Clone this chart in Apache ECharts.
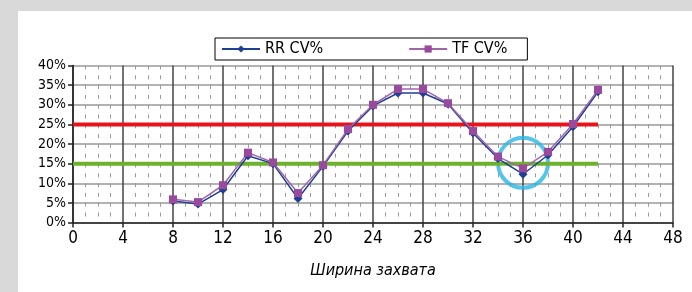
<!DOCTYPE html>
<html>
<head>
<meta charset="utf-8">
<script src="https://cdn.jsdelivr.net/npm/echarts@6/dist/echarts.min.js"></script>
<style>
    html, body { margin: 0; padding: 0; background: #d9d9d9; }
    #mychart { position: absolute; left: 18px; top: 11px; width: 674px; height: 281px; background: #fff; }
</style>
</head>
<body>
<div id="mychart"></div>
<script>
// ширина захвата
var widths = [8, 10, 12, 14, 16, 18, 20, 22, 24, 26, 28, 30, 32, 34, 36, 38, 40, 42];
var rrCv = [5.5, 4.7, 8.4, 17.0, 15.0, 6.1, 14.3, 23.3, 29.7, 33.0, 33.0, 30.2, 22.8, 16.3, 12.3, 17.2, 24.4, 33.3];
var tfCv = [5.9, 5.2, 9.5, 17.8, 15.3, 7.5, 14.6, 23.8, 30.0, 34.0, 34.0, 30.4, 23.3, 16.8, 13.8, 18.0, 25.1, 33.8];
// пороговые линии (от 0 до 42)
var limitRange = [0, 42];
var redLimit = 25;
var greenLimit = 15;
// обведённая точка
var markPoint = [36, 15.2];

var font = "'DejaVu Sans Condensed', 'Liberation Sans Narrow', sans-serif";

function pairs(xs, ys) {
    var out = [];
    for (var i = 0; i < xs.length; i++) {
        out.push([xs[i], ys[i]]);
    }
    return out;
}

var myChart = echarts.init(document.getElementById('mychart'));
var option = {
    animation: false,
    textStyle: { fontFamily: font },
    legend: {
        left: 197,
        top: 27,
        padding: [3, 20, 3, 6],
        itemGap: 85,
        itemWidth: 38,
        itemHeight: 9,
        borderColor: '#000',
        borderWidth: 1,
        textStyle: { fontFamily: font, fontSize: 16, color: '#000' },
        data: ['RR CV%', 'TF CV%']
    },
    grid: { left: 55, right: 19, top: 54.5, bottom: 69.5 },
    xAxis: {
        type: 'value',
        min: 0,
        max: 48,
        interval: 4,
        name: 'Ширина захвата',
        nameLocation: 'middle',
        nameGap: 40,
        nameTextStyle: { fontFamily: font, fontSize: 16, fontStyle: 'italic', color: '#000' },
        axisLine: { lineStyle: { color: '#222', width: 1.5 } },
        axisTick: { length: 5, lineStyle: { color: '#222', width: 1.5 } },
        axisLabel: { fontFamily: font, fontSize: 17, color: '#000', margin: 8 },
        splitLine: { lineStyle: { color: '#444', width: 1.5 } },
        minorTick: { show: false, splitNumber: 4 },
        minorSplitLine: { show: true, lineStyle: { color: '#999', width: 1, type: [4, 5.8] } }
    },
    yAxis: {
        type: 'value',
        min: 0,
        max: 40,
        interval: 5,
        axisLine: { show: true, lineStyle: { color: '#222', width: 1.5 } },
        axisTick: { show: true, length: 5, lineStyle: { color: '#222', width: 1.5 } },
        axisLabel: { fontFamily: font, fontSize: 14, color: '#000', margin: 7, formatter: '{value}%' },
        splitLine: { lineStyle: { color: '#999', width: 1.5 } }
    },
    series: [
        {
            name: 'red',
            type: 'line',
            symbol: 'none',
            silent: true,
            lineStyle: { color: '#e8141c', width: 4 },
            data: pairs(limitRange, [redLimit, redLimit])
        },
        {
            name: 'green',
            type: 'line',
            symbol: 'none',
            silent: true,
            lineStyle: { color: '#6cb22c', width: 4 },
            data: pairs(limitRange, [greenLimit, greenLimit])
        },
        {
            name: 'RR CV%',
            type: 'line',
            symbol: 'diamond',
            symbolSize: 9,
            itemStyle: { color: '#1f3f94' },
            lineStyle: { color: '#1f3f94', width: 1.5 },
            data: pairs(widths, rrCv)
        },
        {
            name: 'TF CV%',
            type: 'line',
            symbol: 'rect',
            symbolSize: 8,
            itemStyle: { color: '#9a4a9e' },
            lineStyle: { color: '#a066aa', width: 1.5 },
            data: pairs(widths, tfCv)
        },
        {
            name: 'circle',
            type: 'scatter',
            symbol: 'circle',
            symbolSize: 50,
            silent: true,
            itemStyle: { color: 'rgba(0,0,0,0)', borderColor: '#2bb5e6', borderWidth: 4 },
            data: [markPoint]
        }
    ]
};
myChart.setOption(option);
</script>
</body>
</html>
